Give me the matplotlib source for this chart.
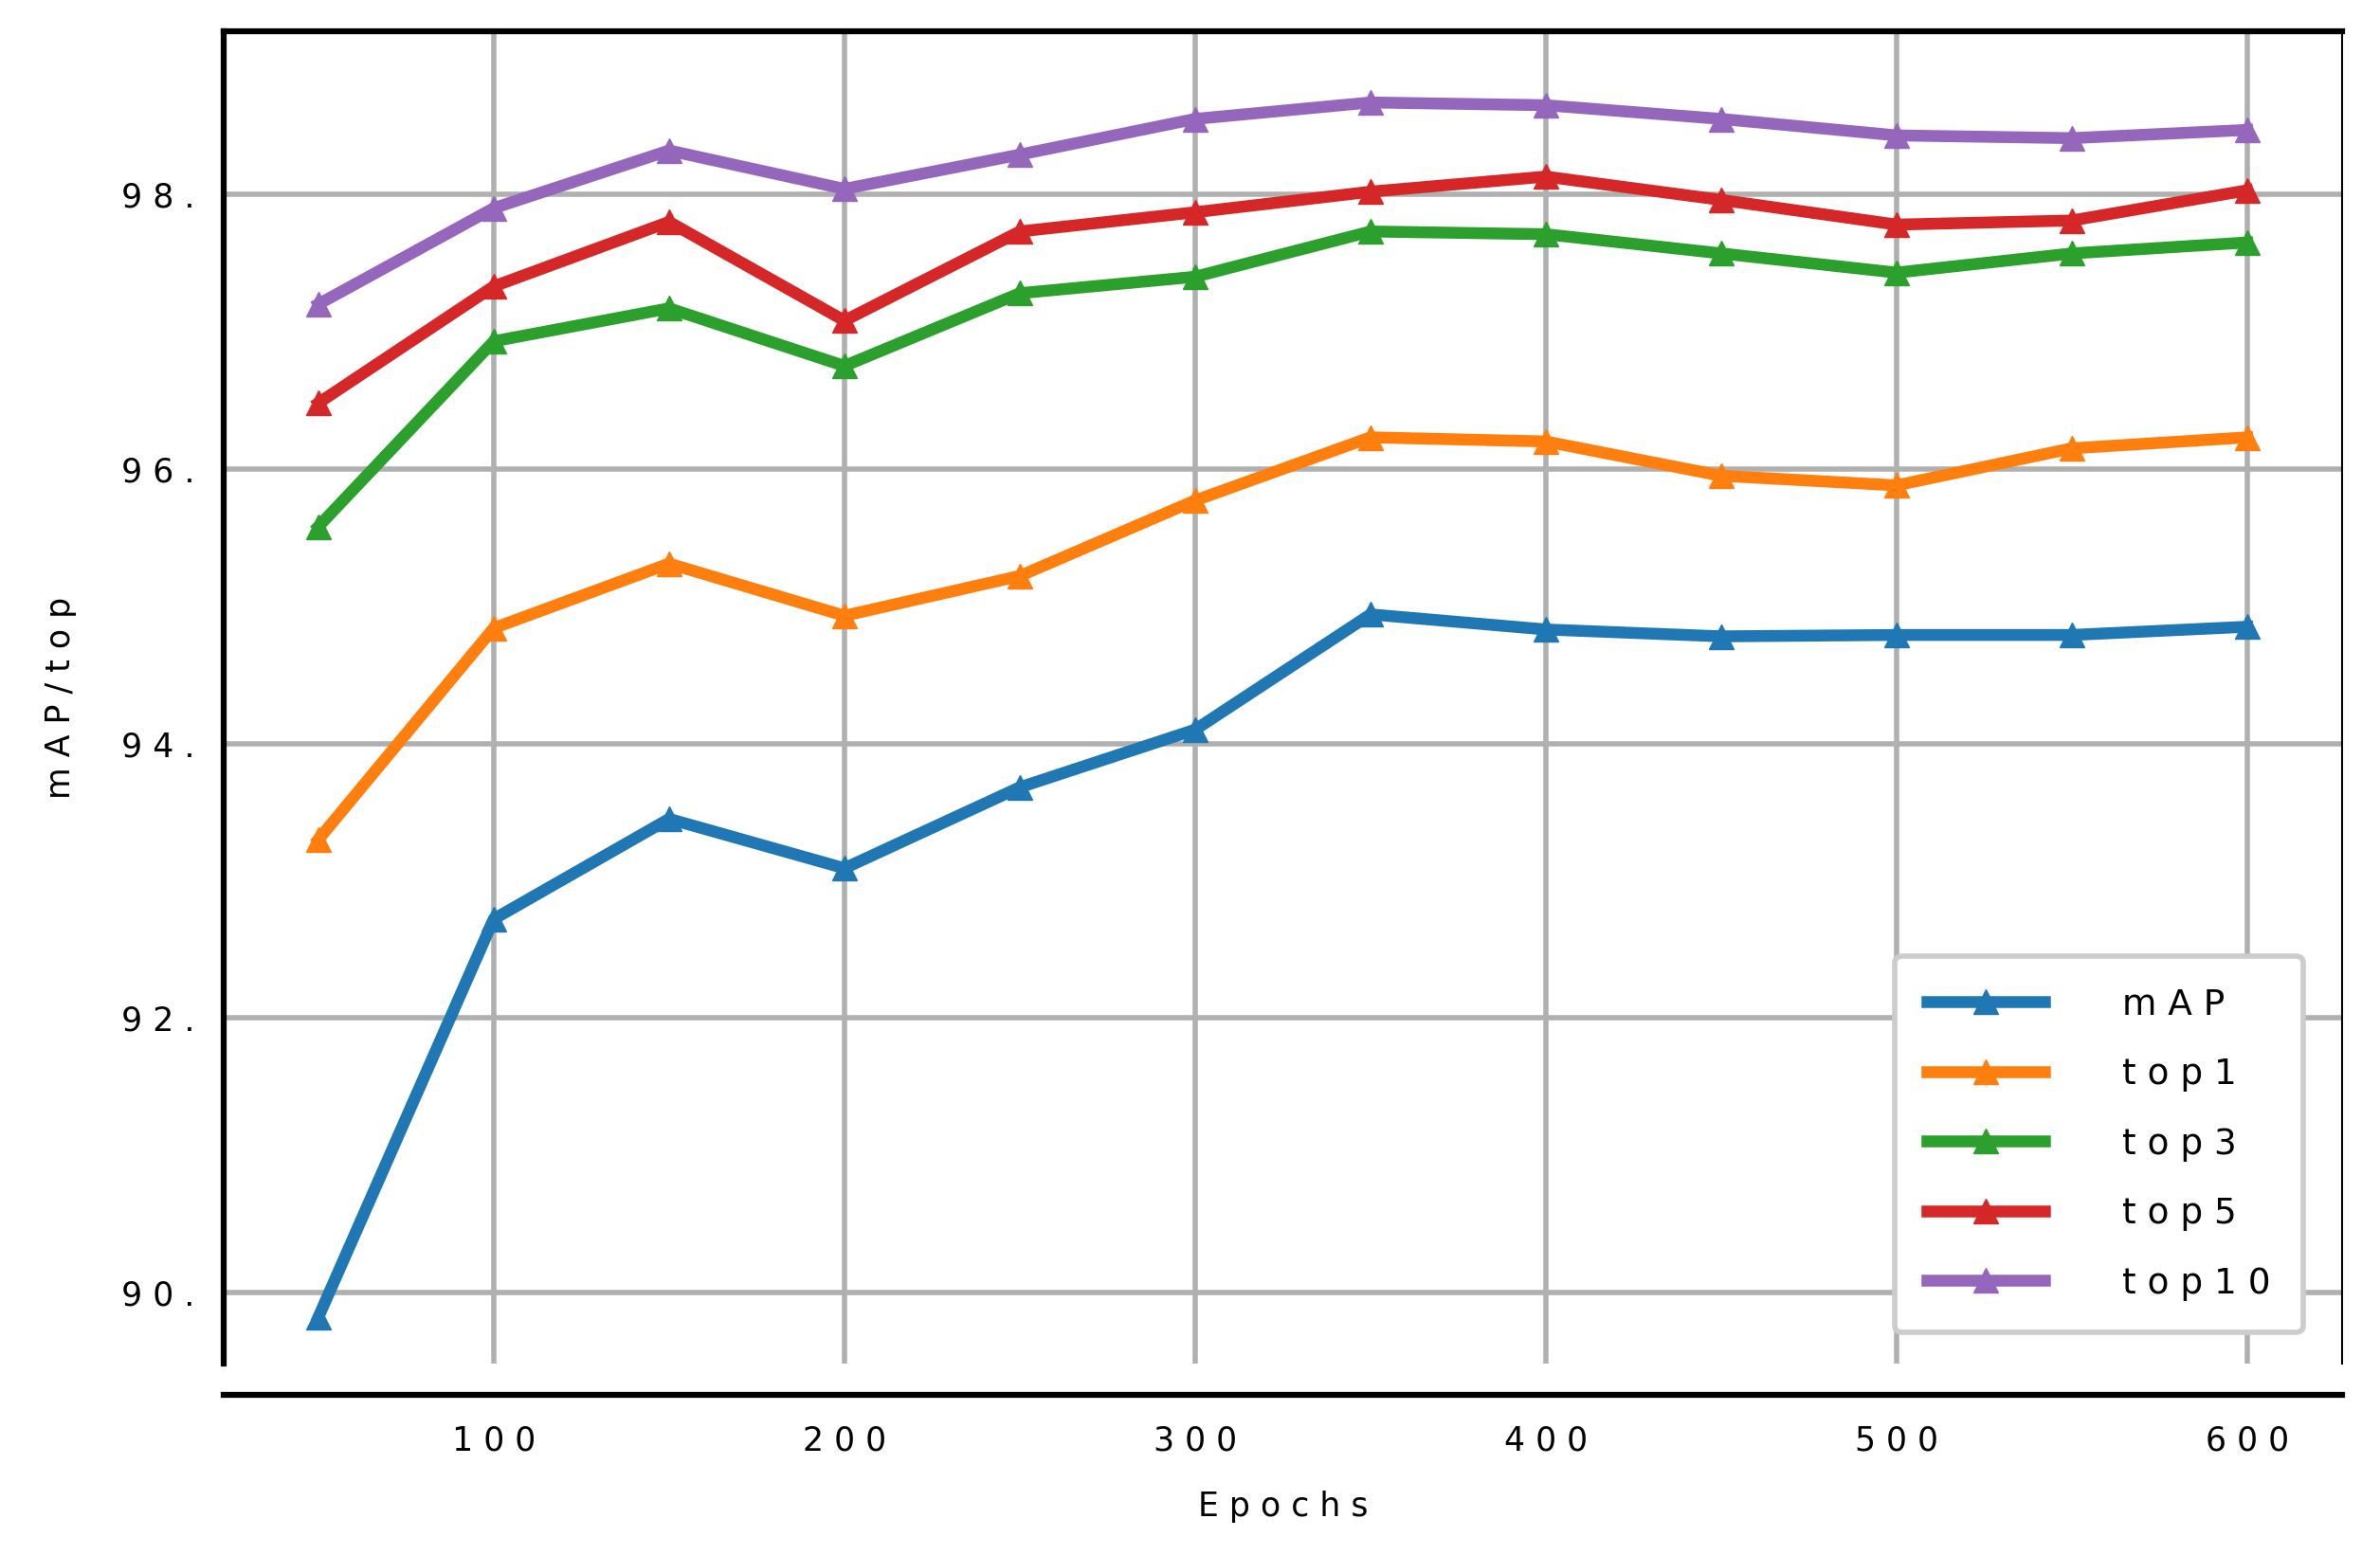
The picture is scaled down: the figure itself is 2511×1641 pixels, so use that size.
import numpy as np
import matplotlib.pyplot as plt

epochs = [50, 100, 150, 200, 250, 300, 350, 400, 450, 500, 550, 600]
map_vals = [89.82, 92.72, 93.45, 93.09, 93.68, 94.1, 94.94, 94.83, 94.78, 94.79, 94.79, 94.85]
top1 = [93.3, 94.84, 95.31, 94.93, 95.22, 95.77, 96.23, 96.2, 95.95, 95.88, 96.15, 96.23]
top3 = [95.58, 96.93, 97.17, 96.75, 97.28, 97.4, 97.73, 97.71, 97.57, 97.43, 97.57, 97.65]
top5 = [96.48, 97.33, 97.8, 97.08, 97.73, 97.87, 98.02, 98.13, 97.96, 97.78, 97.81, 98.03]
top10 = [97.2, 97.9, 98.32, 98.04, 98.29, 98.55, 98.67, 98.65, 98.55, 98.43, 98.41, 98.47]

series = [("m A P", map_vals, "#1f77b4"), ("t o p 1", top1, "#ff7f0e"),
          ("t o p 3", top3, "#2ca02c"), ("t o p 5", top5, "#d62728"),
          ("t o p 1 0", top10, "#9467bd")]

fig = plt.figure(figsize=(25.11, 16.41), dpi=100)
ax = fig.add_axes([0.094, 0.123, 0.89, 0.857])

for name, vals, col in series:
    ax.plot(epochs, vals, color=col, lw=9, marker="^", ms=19, label=name)

ax.set_xlim(23, 627)
ax.set_ylim(89.48, 99.19)
xt = [100, 200, 300, 400, 500, 600]
yt = [90, 92, 94, 96, 98]
ax.set_xticks(xt)
ax.set_xticklabels([" ".join(str(v)) for v in xt])
ax.set_yticks(yt)
ax.set_yticklabels([" ".join(str(v)) + " ." for v in yt])
ax.tick_params(length=0, labelsize=25, pad=22)
ax.grid(True, color="#b0b0b0", lw=4)
ax.set_axisbelow(True)

for s in ["left", "top", "bottom"]:
    ax.spines[s].set_linewidth(4.5)
ax.spines["right"].set_linewidth(1.5)
ax.spines["bottom"].set_position(("outward", 24))

ax.set_xlabel("E p o c h s", fontsize=25, labelpad=26)
ax.set_ylabel("m A P / t o p", fontsize=25, labelpad=34)

leg = ax.legend(loc="lower right", fontsize=27, handlelength=3.3, handletextpad=2.2,
                labelspacing=1.0, borderpad=0.9, framealpha=1, fancybox=True,
                bbox_to_anchor=(0.99, 0.01))
leg.get_frame().set_edgecolor("#cccccc")
leg.get_frame().set_linewidth(4)

fig.savefig("out.png", dpi=100)
